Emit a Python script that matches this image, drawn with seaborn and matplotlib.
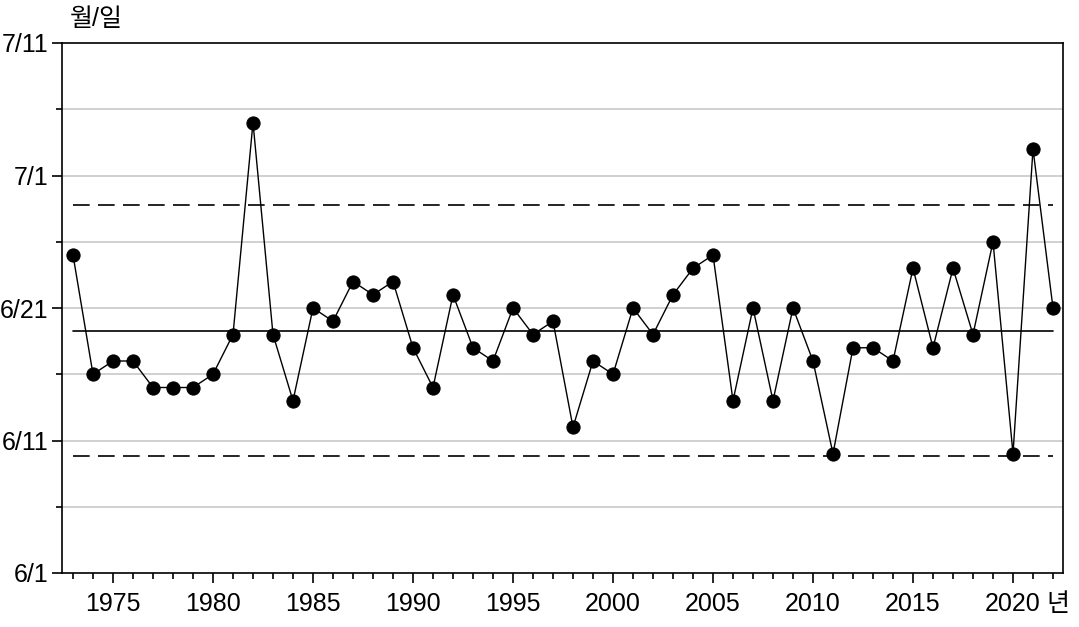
import matplotlib.pyplot as plt
import matplotlib.ticker as mticker
import seaborn as sns
import pandas as pd

# days after 6/1 (0 = 6/1, 10 = 6/11, 20 = 6/21, 30 = 7/1, 40 = 7/11)
years = list(range(1973, 2023))
days = [24, 15, 16, 16, 14, 14, 14, 15, 18, 34,
        18, 13, 20, 19, 22, 21, 22, 17, 14, 21,
        17, 16, 20, 18, 19, 11, 16, 15, 20, 18,
        21, 23, 24, 13, 20, 13, 20, 16, 9, 17,
        17, 16, 23, 17, 23, 18, 25, 9, 32, 20]
mean_day = 18.3
upper_day = 27.8
lower_day = 8.8
ytick_vals = [0, 10, 20, 30, 40]
ytick_labels = ['6/1', '6/11', '6/21', '7/1', '7/11']

df = pd.DataFrame({'year': years, 'day': days})

sns.set_style('white')
plt.rcParams['font.family'] = ['Liberation Sans', 'Noto Sans CJK KR', 'DejaVu Sans']
plt.rcParams['text.color'] = 'black'
plt.rcParams['xtick.color'] = 'black'
plt.rcParams['ytick.color'] = 'black'

fig = plt.figure(figsize=(10.79, 6.27), dpi=100)
ax = fig.add_axes([62 / 1079, 1 - 573 / 627, (1063 - 62) / 1079, (573 - 43) / 627])

# light horizontal grid every 5 days
for g in range(5, 40, 5):
    ax.axhline(g, color='#c8c8c8', lw=1.2, zorder=0)

ax.plot([years[0], years[-1]], [mean_day, mean_day], color='black', lw=1.2, zorder=1)
ax.plot([years[0], years[-1]], [upper_day, upper_day], color='black', lw=1.2,
        dashes=(10, 5), zorder=1)
ax.plot([years[0], years[-1]], [lower_day, lower_day], color='black', lw=1.2,
        dashes=(10, 5), zorder=1)

sns.lineplot(data=df, x='year', y='day', ax=ax, color='black', lw=1.0,
             marker='o', markersize=9.5, markeredgecolor='black', zorder=3)

ax.set_xlim(1972.45, 2022.5)
ax.set_ylim(0, 40)
ax.set_yticks(ytick_vals)
ax.set_yticklabels(ytick_labels)
ax.yaxis.set_minor_locator(mticker.MultipleLocator(5))
ax.set_xticks(range(1975, 2021, 5))
ax.xaxis.set_minor_locator(mticker.FixedLocator(years))
ax.tick_params(axis='both', which='major', direction='out', length=7, width=1.2,
               labelsize=18, color='black', labelcolor='black', pad=3)
ax.tick_params(axis='x', which='minor', direction='out', length=4, width=1.2, color='black')
ax.tick_params(axis='y', which='minor', direction='out', length=4, width=1.2, color='black')
ax.tick_params(axis='x', which='major', pad=7)
ax.tick_params(bottom=True, left=True, which='both')
ax.set_xlabel('')
ax.set_ylabel('')
for s in ax.spines.values():
    s.set_color('black')
    s.set_linewidth(1.2)

fig.text(70 / 1079, 1 - 19 / 627, '월/일', fontsize=18, ha='left', va='center')
fig.text(1058 / 1079, 1 - 604 / 627, '년', fontsize=18, ha='center', va='center')

fig.savefig('out.png', dpi=100)
